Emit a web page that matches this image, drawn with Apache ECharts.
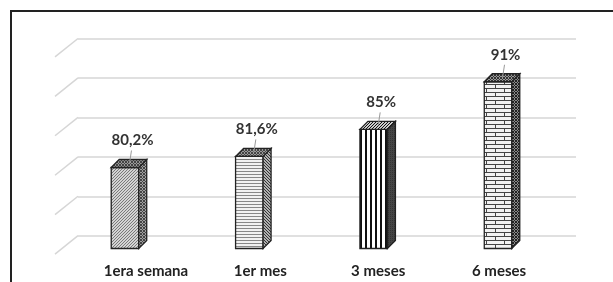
<!DOCTYPE html>
<html><head><meta charset="utf-8">
<script src="https://cdn.jsdelivr.net/npm/echarts@6/dist/echarts.min.js"></script>
<style>html,body{margin:0;padding:0;background:#fff}#c{width:613px;height:282px}</style>
</head><body><div id="c"></div>
<script>
const categories = ['1era semana', '1er mes', '3 meses', '6 meses'];
const values = [80.2, 81.6, 85, 91];
const gridTicks = [70, 75, 80, 85, 90, 95];
const labelShift = [21, 11, 4.5, 1];

function pat(w, h, draw) {
  const c = document.createElement('canvas');
  c.width = w; c.height = h;
  const g = c.getContext('2d');
  draw(g, w, h);
  return { image: c, repeat: 'repeat' };
}
function diag(bg, fg, n, back) {
  return pat(n, n, (g) => {
    g.fillStyle = bg; g.fillRect(0, 0, n, n);
    g.fillStyle = fg;
    for (let i = 0; i < n; i++) g.fillRect(i, back ? i : n - 1 - i, 1, 1);
  });
}
function cross(bg, fg, n) {
  return pat(n, n, (g) => {
    g.fillStyle = bg; g.fillRect(0, 0, n, n);
    g.fillStyle = fg;
    for (let i = 0; i < n; i++) { g.fillRect(i, i, 1, 1); g.fillRect(i, n - 1 - i, 1, 1); }
  });
}
const frontPat = [
  diag('#d4d4d4', '#7a7a7a', 3, false),
  pat(1, 3, (g) => { g.fillStyle = '#f2f2f2'; g.fillRect(0, 0, 1, 3); g.fillStyle = '#888'; g.fillRect(0, 0, 1, 1); }),
  pat(5, 1, (g) => { g.fillStyle = '#fff'; g.fillRect(0, 0, 5, 1); g.fillStyle = '#111'; g.fillRect(0, 0, 2, 1); }),
  pat(18, 8, (g) => {
    g.fillStyle = '#f2f2f2'; g.fillRect(0, 0, 18, 8);
    g.fillStyle = '#444';
    g.fillRect(0, 0, 18, 1); g.fillRect(0, 4, 18, 1);
    g.fillRect(0, 0, 1, 4); g.fillRect(9, 4, 1, 4);
  })
];
const sidePat = [
  cross('#a0a0a0', '#444', 3),
  diag('#b0b0b0', '#333', 3, true),
  pat(2, 2, (g) => { g.fillStyle = '#444'; g.fillRect(0, 0, 2, 2); g.fillStyle = '#333'; g.fillRect(0, 0, 1, 1); }),
  cross('#8a8a8a', '#222', 3)
];
const topPat = [
  cross('#999', '#444', 3),
  cross('#999', '#444', 3),
  diag('#ccc', '#111', 3, false),
  cross('#999', '#333', 3)
];

const chart = echarts.init(document.getElementById('c'), null, { renderer: 'canvas' });
const depth = 8, barW = 27.5;
const catRich = {};
labelShift.forEach((s, i) => {
  catRich['c' + i] = { padding: [0, 0, 0, s * 2], fontFamily: 'Lato', fontWeight: 'bold', fontSize: 15, color: '#222' };
});

chart.setOption({
  animation: false,
  backgroundColor: '#fff',
  graphic: [{
    type: 'rect', shape: { x: 11, y: 11, width: 640, height: 320 },
    style: { fill: 'none', stroke: '#222', lineWidth: 2 }, z: 100
  }],
  grid: [
    { left: 62.8, right: 52.8, top: 50, bottom: 33.5 },
    { left: 78, right: 37, top: 38.5, bottom: 46.3 }
  ],
  xAxis: [
    {
      gridIndex: 0, type: 'category', data: categories,
      axisLine: { show: false }, axisTick: { show: false },
      axisLabel: {
        margin: 15,
        formatter: (v, i) => '{c' + i + '|' + v + '}',
        rich: catRich
      }
    },
    { gridIndex: 1, type: 'value', min: 0, max: 1, show: false }
  ],
  yAxis: [
    { gridIndex: 0, type: 'value', min: 70, max: 95, show: false },
    {
      gridIndex: 1, type: 'value', min: 70, max: 95, interval: 5,
      axisLine: { show: false }, axisTick: { show: false }, axisLabel: { show: false },
      splitLine: { show: true, lineStyle: { color: '#d6d6d6', width: 1.5 } }
    }
  ],
  series: [
    {
      type: 'custom', xAxisIndex: 1, yAxisIndex: 1, z: 1, silent: true,
      data: gridTicks.map(t => [0, t]),
      renderItem: (params, api) => {
        const p = api.coord([0, api.value(1)]);
        return {
          type: 'line',
          shape: { x1: p[0], y1: p[1], x2: p[0] - 23, y2: p[1] + 18.4 },
          style: { stroke: '#d6d6d6', lineWidth: 1.5 }
        };
      }
    },
    {
      type: 'custom', xAxisIndex: 0, yAxisIndex: 0, z: 5, silent: true,
      data: values.map((v, i) => [i, v]),
      renderItem: (params, api) => {
        const i = api.value(0), v = api.value(1);
        const top = api.coord([i, v]);
        const base = api.coord([i, 70]);
        const cx = top[0], ty = top[1], by = base[1];
        const l = cx - barW / 2, r = cx + barW / 2;
        const lx = cx + depth / 2 + 3.5, ly = ty - depth - 19;
        const stroke = '#222';
        return {
          type: 'group',
          children: [
            { type: 'rect', shape: { x: l, y: ty, width: barW, height: by - ty },
              style: { fill: frontPat[i], stroke: stroke, lineWidth: 1.3 } },
            { type: 'polygon', shape: { points: [[r, ty], [r + depth, ty - depth], [r + depth, by - depth], [r, by]] },
              style: { fill: sidePat[i], stroke: stroke, lineWidth: 1.3 } },
            { type: 'polygon', shape: { points: [[l, ty], [l + depth, ty - depth], [r + depth, ty - depth], [r, ty]] },
              style: { fill: topPat[i], stroke: stroke, lineWidth: 1.3 } },
            { type: 'line', shape: { x1: lx - 1, y1: ly + 10, x2: lx - 3, y2: ty - 4 },
              style: { stroke: '#999', lineWidth: 1 } },
            { type: 'text',
              style: { text: String(v).replace('.', ',') + '%', x: lx, y: ly, align: 'center', verticalAlign: 'middle',
                font: 'bold 15px Lato', fill: '#333' } }
          ]
        };
      }
    }
  ]
});
</script></body></html>
